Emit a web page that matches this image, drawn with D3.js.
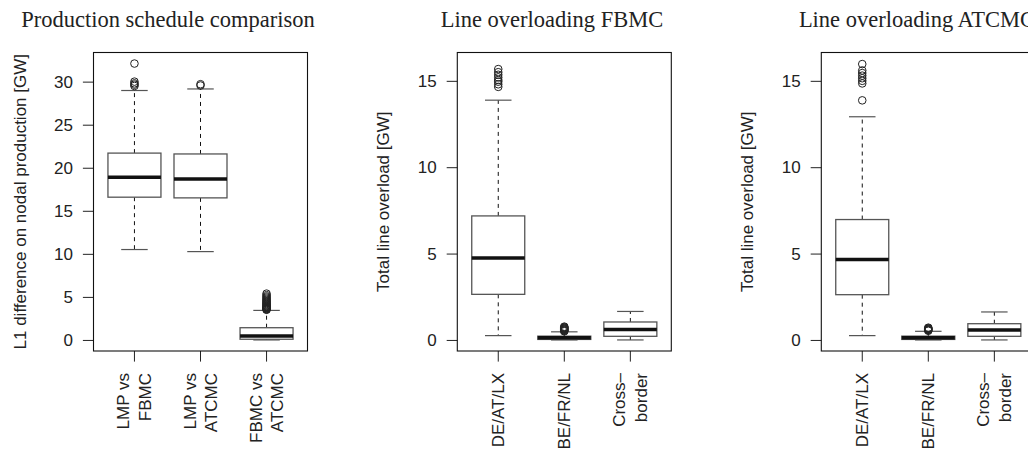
<!DOCTYPE html>
<html>
<head>
<meta charset="utf-8">
<script src="https://cdn.jsdelivr.net/npm/d3@7/dist/d3.min.js"></script>
<style>
  body { margin: 0; background: #fff; }
  svg { display: block; }
  .tick text { font-family: "Liberation Sans", Arial, sans-serif; font-size: 17px; fill: #222; }
  .title { font-family: "Liberation Serif", "Times New Roman", serif; font-size: 22.5px; fill: #222; }
  .ylab, .xlab { font-family: "Liberation Sans", Arial, sans-serif; font-size: 17px; fill: #222; }
</style>
</head>
<body>
<svg width="1028" height="451"></svg>
<script>
// production schedule comparison
const prodCats = [["LMP vs", "FBMC"], ["LMP vs", "ATCMC"], ["FBMC vs", "ATCMC"]];
const prodLow = [10.5, 10.26, 0.0];
const prodQ1 = [16.58, 16.5, 0.08];
const prodMed = [18.9, 18.7, 0.45];
const prodQ3 = [21.7, 21.6, 1.42];
const prodHigh = [28.97, 29.15, 3.43];
const prodOut = [
  [29.5, 29.65, 29.8, 30.0, 32.1],
  [29.55, 29.7],
  [3.5, 3.55, 3.6, 3.65, 3.7, 3.76, 3.82, 3.88, 3.95, 4.02, 4.1, 4.18, 4.27, 4.36, 4.46, 4.56, 4.67, 4.79, 4.92, 5.05, 5.2, 5.38]
];
const prodTicks = [0, 5, 10, 15, 20, 25, 30];

// line overloading FBMC
const lineCats = [["DE/AT/LX"], ["BE/FR/NL"], ["Cross\u2013", "border"]];
const fbmcLow = [0.25, 0.0, 0.0];
const fbmcQ1 = [2.64, 0.03, 0.21];
const fbmcMed = [4.75, 0.12, 0.6];
const fbmcQ3 = [7.18, 0.22, 1.04];
const fbmcHigh = [13.88, 0.47, 1.65];
const fbmcOut = [
  [14.65, 14.8, 14.95, 15.05, 15.2, 15.35, 15.5, 15.68],
  [0.5, 0.53, 0.56, 0.59, 0.62, 0.65, 0.68, 0.71, 0.74, 0.77],
  []
];

// line overloading ATCMC
const atcLow = [0.25, 0.0, 0.0];
const atcQ1 = [2.62, 0.03, 0.21];
const atcMed = [4.66, 0.12, 0.58];
const atcQ3 = [6.97, 0.22, 0.94];
const atcHigh = [12.92, 0.5, 1.62];
const atcOut = [
  [13.87, 14.85, 15.0, 15.15, 15.3, 15.45, 15.6, 15.97],
  [0.53, 0.56, 0.59, 0.62, 0.65, 0.68, 0.71],
  []
];
const lineTicks = [0, 5, 10, 15];

const svg = d3.select("svg");

const panels = [
  { title: "Production schedule comparison", titleX: 168, ylab: "L1 difference on nodal production [GW]", ylabX: 26,
    left: 93.5, cats: prodCats, ymax: 32.1, ticks: prodTicks,
    low: prodLow, q1: prodQ1, med: prodMed, q3: prodQ3, high: prodHigh, out: prodOut },
  { title: "Line overloading FBMC", titleX: 552, ylab: "Total line overload [GW]", ylabX: 389,
    left: 457.3, cats: lineCats, ymax: 16, ticks: lineTicks,
    low: fbmcLow, q1: fbmcQ1, med: fbmcMed, q3: fbmcQ3, high: fbmcHigh, out: fbmcOut },
  { title: "Line overloading ATCMC", titleX: 917, ylab: "Total line overload [GW]", ylabX: 752.5,
    left: 821.3, cats: lineCats, ymax: 16, ticks: lineTicks,
    low: atcLow, q1: atcQ1, med: atcMed, q3: atcQ3, high: atcHigh, out: atcOut }
];

const plotW = 214, plotTop = 52.5, plotBottom = 351;

panels.forEach(p => {
  const g = svg.append("g");
  // R style 4% padding on both axes
  const pad = p.ymax * 0.04;
  const y = d3.scaleLinear().domain([-pad, p.ymax + pad]).range([plotBottom, plotTop]);
  const x = d3.scaleLinear().domain([0.38, 3.62]).range([p.left, p.left + plotW]);
  const idx = [1, 2, 3];
  const bw = 53, cw = 26.5;

  g.append("text").attr("class", "title")
    .attr("x", p.titleX).attr("y", 27).attr("text-anchor", "middle").text(p.title);

  g.append("text").attr("class", "ylab")
    .attr("transform", `translate(${p.ylabX},${(plotTop + plotBottom) / 2}) rotate(-90)`)
    .attr("text-anchor", "middle").text(p.ylab);

  const yAxis = g.append("g").attr("transform", `translate(${p.left},0)`)
    .call(d3.axisLeft(y).tickValues(p.ticks).tickSize(10.6).tickPadding(10).tickFormat(d3.format("d")));
  yAxis.select(".domain").remove();
  yAxis.selectAll(".tick line").attr("stroke", "#222");

  // x ticks and multi-line labels
  idx.forEach((c, i) => {
    const cx = x(c);
    g.append("line").attr("x1", cx).attr("x2", cx).attr("y1", plotBottom).attr("y2", plotBottom + 10.6)
      .attr("stroke", "#222");
    const lines = p.cats[i];
    const offs = lines.length === 1 ? [6] : [-5, 16.5];
    lines.forEach((t, k) => {
      g.append("text").attr("class", "xlab")
        .attr("transform", `translate(${cx + offs[k]},373) rotate(-90)`)
        .attr("text-anchor", "end").text(t);
    });
  });

  idx.forEach((c, i) => {
    const cx = x(c);
    // whiskers
    g.append("line").attr("x1", cx).attr("x2", cx).attr("y1", y(p.q3[i])).attr("y2", y(p.high[i]))
      .attr("stroke", "#111").attr("stroke-dasharray", "4,4");
    g.append("line").attr("x1", cx).attr("x2", cx).attr("y1", y(p.q1[i])).attr("y2", y(p.low[i]))
      .attr("stroke", "#111").attr("stroke-dasharray", "4,4");
    [p.high[i], p.low[i]].forEach(v => {
      g.append("line").attr("x1", cx - cw / 2).attr("x2", cx + cw / 2).attr("y1", y(v)).attr("y2", y(v))
        .attr("stroke", "#555").attr("stroke-width", 1.2);
    });
    g.append("rect").attr("x", cx - bw / 2).attr("width", bw)
      .attr("y", y(p.q3[i])).attr("height", Math.max(0.5, y(p.q1[i]) - y(p.q3[i])))
      .attr("fill", "#fff").attr("stroke", "#555").attr("stroke-width", 1.3);
    g.append("line").attr("x1", cx - bw / 2).attr("x2", cx + bw / 2).attr("y1", y(p.med[i])).attr("y2", y(p.med[i]))
      .attr("stroke", "#111").attr("stroke-width", 3.5);
    g.selectAll(null).data(p.out[i]).join("circle")
      .attr("cx", cx).attr("cy", d => y(d)).attr("r", 3.8)
      .attr("fill", "none").attr("stroke", "#222").attr("stroke-width", 1);
  });

  g.append("rect").attr("x", p.left).attr("y", plotTop).attr("width", plotW).attr("height", plotBottom - plotTop)
    .attr("fill", "none").attr("stroke", "#111").attr("stroke-width", 1.1);
});
</script>
</body>
</html>
